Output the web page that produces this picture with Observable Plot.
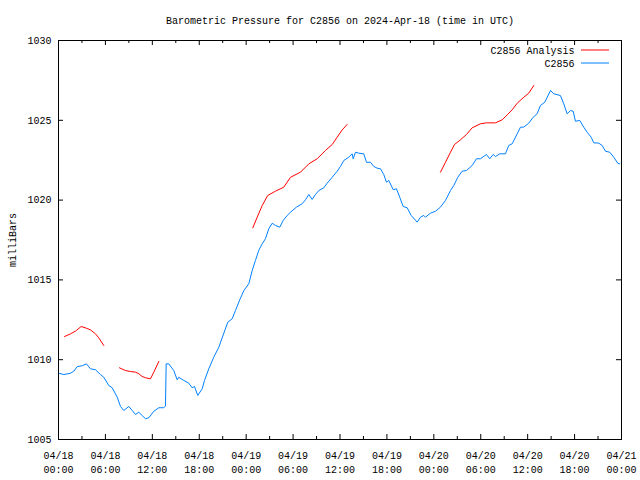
<!DOCTYPE html>
<html>
<head>
<meta charset="utf-8">
<script src="https://cdn.jsdelivr.net/npm/d3@7"></script>
<script src="https://cdn.jsdelivr.net/npm/@observablehq/plot@0.6"></script>
<style>
  html, body { margin: 0; padding: 0; background: white; }
  #chart { width: 640px; height: 480px; }
</style>
</head>
<body>
<div id="chart"></div>
<script>
const titleText = "Barometric Pressure for C2856 on 2024-Apr-18 (time in UTC)";
const yLabel = "milliBars";
const seriesNames = ["C2856 Analysis", "C2856"];
const seriesColors = ["#ff0000", "#0080ff"];

// hours since 2024-04-18 00:00 UTC
const stationHours = [0.04,0.68,1.53,1.96,2.39,3.03,3.58,4.09,4.73,5.37,5.79,6.43,6.87,7.51,7.93,8.35,8.99,9.42,9.85,10.27,10.70,11.13,11.55,12.19,12.83,13.47,13.68,13.77,14.10,14.74,15.18,15.38,16.02,16.66,17.10,17.39,17.81,18.38,18.67,19.22,19.86,20.50,20.93,21.65,22.21,22.63,23.18,23.70,24.34,24.77,25.19,25.61,26.05,26.47,26.89,27.33,27.75,28.30,28.73,29.25,29.67,30.43,31.16,31.59,32.01,32.44,32.86,33.29,33.93,34.36,35.00,35.64,36.06,36.48,37.12,37.56,37.69,37.98,38.40,39.04,39.39,39.90,40.32,40.75,41.18,41.60,41.94,42.24,42.80,43.22,43.64,44.08,44.59,45.10,45.87,46.29,46.71,46.93,47.57,48.21,48.85,49.49,50.13,50.55,51.06,51.62,52.17,52.90,53.45,53.96,54.73,55.15,55.59,55.88,56.43,57.16,57.58,58.02,58.66,59.08,59.50,60.14,60.70,61.21,61.64,62.19,62.92,63.34,64.19,64.62,65.05,65.47,65.82,66.11,66.66,67.17,67.61,68.12,68.45,69.09,69.53,69.95,70.50,71.01,71.52,71.78];
const stationPressure = [1009.15,1009.07,1009.15,1009.28,1009.57,1009.62,1009.74,1009.43,1009.37,1009.07,1008.90,1008.38,1008.24,1007.65,1007.07,1006.82,1007.07,1006.82,1006.57,1006.71,1006.50,1006.30,1006.36,1006.77,1006.99,1006.99,1007.10,1009.74,1009.74,1009.32,1008.74,1008.90,1008.70,1008.53,1008.24,1008.32,1007.76,1008.18,1008.70,1009.43,1010.16,1010.78,1011.37,1012.35,1012.56,1013.08,1013.75,1014.33,1014.76,1015.59,1016.22,1016.85,1017.26,1017.58,1018.20,1018.55,1018.41,1018.30,1018.72,1019.04,1019.24,1019.56,1019.77,1020.02,1020.35,1020.04,1020.35,1020.60,1020.77,1021.06,1021.43,1021.81,1022.11,1022.48,1022.69,1022.90,1022.59,1023.00,1022.94,1022.90,1022.37,1022.37,1022.11,1022.00,1021.96,1021.60,1021.12,1021.23,1020.65,1020.71,1020.18,1019.60,1019.52,1019.04,1018.62,1018.93,1019.04,1018.93,1019.18,1019.30,1019.56,1019.98,1020.60,1020.91,1021.43,1021.81,1021.85,1022.17,1022.59,1022.59,1022.86,1022.59,1022.86,1022.73,1022.90,1022.90,1023.42,1023.53,1024.15,1024.57,1024.57,1024.82,1025.19,1025.41,1025.93,1026.13,1026.87,1026.66,1026.55,1026.03,1025.41,1025.61,1025.57,1024.94,1024.99,1024.57,1024.25,1023.94,1023.59,1023.57,1023.42,1023.06,1023.00,1022.69,1022.31,1022.27];

const analysisSegment = [1,1,1,1,1,1,1,1,1, 2,2,2,2,2,2,2,2,2,2, 3,3,3,3,3,3,3,3,3,3,3,3,3,3,3, 4,4,4,4,4,4,4,4,4,4,4,4,4,4,4,4,4];
const analysisHours = [0.77,1.53,2.17,2.90,3.58,4.09,4.73,5.15,5.79,
  7.80,8.57,9.21,9.85,10.27,10.70,11.13,11.76,12.19,12.83,
  24.85,25.41,26.05,26.76,27.75,28.81,29.67,30.95,32.01,33.08,34.14,35.00,35.64,36.28,36.92,
  48.85,49.49,50.13,50.64,51.41,52.17,52.90,53.96,54.73,55.88,56.74,57.38,58.02,58.66,59.42,60.14,60.78];
const analysisPressure = [1011.45,1011.62,1011.79,1012.08,1011.97,1011.87,1011.62,1011.37,1010.89,
  1009.49,1009.32,1009.26,1009.22,1009.12,1008.95,1008.87,1008.80,1009.22,1009.89,
  1018.26,1018.93,1019.66,1020.29,1020.56,1020.81,1021.43,1021.75,1022.27,1022.59,1023.11,1023.48,1023.94,1024.40,1024.74,
  1021.75,1022.37,1023.00,1023.48,1023.78,1024.11,1024.53,1024.78,1024.84,1024.84,1025.03,1025.34,1025.66,1026.07,1026.41,1026.70,1027.18];

const majorTickHours = [0,6,12,18,24,30,36,42,48,54,60,66,72];
const minorTickHours = [3,9,15,21,27,33,39,45,51,57,63,69];
const yTicks = [1005,1010,1015,1020,1025,1030];

const start = Date.UTC(2024, 3, 18);
const toDate = h => new Date(start + h * 3600000);
const fmt = d3.utcFormat("%m/%d\n%H:%M");

const station = stationHours.map((h, i) => ({date: toDate(h), p: stationPressure[i]}));
const analysis = analysisHours.map((h, i) => ({date: toDate(h), p: analysisPressure[i], seg: analysisSegment[i]}));

const W = 640, H = 480, mL = 58, mR = 19, mT = 40, mB = 41;
const fh = H - mT - mB, fw = W - mL - mR;

const chart = Plot.plot({
  width: W, height: H,
  marginLeft: mL, marginRight: mR, marginTop: mT, marginBottom: mB,
  x: {type: "utc", domain: [toDate(0), toDate(72)], axis: null},
  y: {domain: [1005, 1030], axis: null},
  style: {fontFamily: "'Liberation Mono', 'DejaVu Sans Mono', monospace", fontSize: "10px", background: "white", color: "black", overflow: "visible"},
  marks: [
    Plot.ruleX(majorTickHours, {x: toDate, insetTop: fh - 5, stroke: "black"}),
    Plot.ruleX(majorTickHours, {x: toDate, insetBottom: fh - 5, stroke: "black"}),
    Plot.ruleX(minorTickHours, {x: toDate, insetTop: fh - 3, stroke: "black"}),
    Plot.ruleX(minorTickHours, {x: toDate, insetBottom: fh - 3, stroke: "black"}),
    Plot.ruleY(yTicks, {y: d => d, insetRight: fw - 5, stroke: "black"}),
    Plot.ruleY(yTicks, {y: d => d, insetLeft: fw - 5, stroke: "black"}),
    Plot.line(analysis, {x: "date", y: "p", z: "seg", stroke: seriesColors[0], strokeWidth: 1}),
    Plot.line(station, {x: "date", y: "p", stroke: seriesColors[1], strokeWidth: 1}),
    Plot.frame({stroke: "black"}),
    Plot.text(majorTickHours, {x: toDate, text: h => fmt(toDate(h)), frameAnchor: "bottom", dy: 22, lineAnchor: "middle", textAnchor: "middle", lineHeight: 1.37, fill: "black"}),
    Plot.text(yTicks, {y: d => d, text: d => String(d), frameAnchor: "left", dx: -7, textAnchor: "end", lineAnchor: "middle", fill: "black"}),
    Plot.text([titleText], {frameAnchor: "top", dy: -20, lineAnchor: "middle", textAnchor: "middle", fill: "black"}),
    Plot.text([yLabel], {frameAnchor: "left", dx: -46, rotate: -90, lineAnchor: "middle", textAnchor: "middle", fill: "black"}),
    Plot.text([seriesNames[0]], {frameAnchor: "top-right", dx: -47, dy: 10, lineAnchor: "middle", textAnchor: "end", fill: "black"}),
    Plot.text([seriesNames[1]], {frameAnchor: "top-right", dx: -47, dy: 23, lineAnchor: "middle", textAnchor: "end", fill: "black"})
  ]
});

// legend line samples
const svg = d3.select(chart);
seriesColors.forEach((c, i) => {
  svg.append("line")
    .attr("x1", W - mR - 40).attr("x2", W - mR - 12)
    .attr("y1", mT + 10 + i * 13).attr("y2", mT + 10 + i * 13)
    .attr("stroke", c).attr("stroke-width", 1);
});

document.getElementById("chart").appendChild(chart);
</script>
</body>
</html>
